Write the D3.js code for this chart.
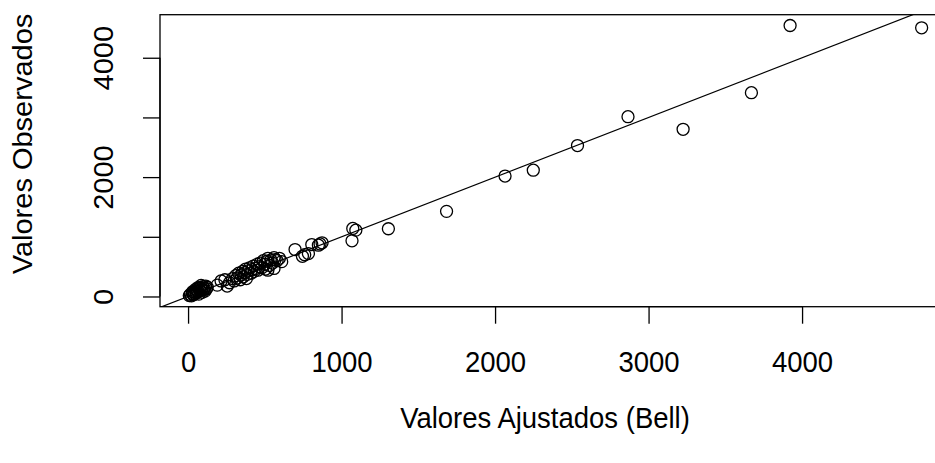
<!DOCTYPE html>
<html><head><meta charset="utf-8">
<script src="https://cdn.jsdelivr.net/npm/d3@7"></script>
<style>html,body{margin:0;padding:0;background:#fff;}svg{display:block;}</style>
</head><body>
<script>
// Fitted (Bell) values and observed values
const fitted = [8,15,22,28,35,40,45,50,55,60,65,70,72,78,82,88,92,96,100,105,110,115,120,125,65,85,50,30,
  190,215,240,270,255,
  290,300,310,320,330,340,345,355,360,370,375,385,390,400,410,415,425,430,440,450,455,465,470,380,
  480,490,500,505,515,520,530,540,550,560,567,580,595,610,560,520,
  697,745,760,784,806,849,873,860,1068,1073,1093,1305,1684,2065,2249,2537,2866,3225,3670,3922,4779];
const observed = [15,35,10,50,30,70,45,90,60,110,80,40,130,95,150,120,70,165,110,140,90,175,130,155,150,185,120,80,
  190,260,280,230,175,
  300,260,350,310,390,280,360,420,330,400,460,370,430,480,390,450,510,420,470,540,440,500,560,300,
  480,600,540,460,590,640,520,610,560,650,618,600,640,584,470,440,
  786,673,700,719,870,859,899,880,933,1140,1111,1135,1426,2018,2116,2529,3012,2801,3414,4540,4502];
const xTicks = [0,1000,2000,3000,4000];
const yTicks = [0,1000,2000,3000,4000];
const yTickLabels = ["0","","2000","","4000"];
const xTitle = "Valores Ajustados (Bell)";
const yTitle = "Valores Observados";

(function(){
const W = 935, H = 463;
const font = "'Liberation Sans', Arial, sans-serif";
const fs = "27.5px", stretch = 1.055;
const svg = d3.select("body").append("svg").attr("width", W).attr("height", H);

function padDomain(v){ const lo=d3.min(v), hi=d3.max(v), r=hi-lo; return [lo-0.04*r, hi+0.04*r]; }
const xd = padDomain(fitted), yd = padDomain(observed);
const pl = 160, pt = 14.7, pb = 306.7, pxPerUnit = 0.1535;
const pr = pl + (xd[1]-xd[0])*pxPerUnit;
const x = d3.scaleLinear().domain(xd).range([pl, pr]);
const y = d3.scaleLinear().domain(yd).range([pb, pt]);

const tickLen = 17;
svg.append("rect").attr("x", pl).attr("y", pt).attr("width", pr-pl).attr("height", pb-pt)
  .attr("fill","none").attr("stroke","#000").attr("stroke-width",1.3);

const xa = svg.append("g").attr("transform", `translate(0,${pb})`)
  .call(d3.axisBottom(x).tickValues(xTicks).tickSize(tickLen).tickPadding(0).tickFormat(()=>""));
xa.select(".domain").attr("d", `M${x(xTicks[0])},0H${x(xTicks[xTicks.length-1])}`).attr("stroke-width",1.3);
xa.selectAll(".tick line").attr("stroke-width",1.3);
xa.selectAll(".tick").append("text").attr("transform",`translate(0,65) scale(1,${stretch})`).attr("fill","#000")
  .attr("text-anchor","middle").style("font-family",font).style("font-size",fs)
  .text(d=>String(d));

const ya = svg.append("g").attr("transform", `translate(${pl},0)`)
  .call(d3.axisLeft(y).tickValues(yTicks).tickSize(tickLen).tickPadding(0).tickFormat(()=>""));
ya.select(".domain").attr("d", `M0,${y(yTicks[0])}V${y(yTicks[yTicks.length-1])}`).attr("stroke-width",1.3);
ya.selectAll(".tick line").attr("stroke-width",1.3);
ya.selectAll(".tick").append("text").attr("transform",`translate(-47,0) rotate(-90) scale(${stretch},1)`).attr("fill","#000")
  .attr("text-anchor","middle").style("font-family",font).style("font-size",fs)
  .text((d,i)=>yTickLabels[i]);

svg.append("clipPath").attr("id","pc").append("rect")
  .attr("x",pl).attr("y",pt).attr("width",pr-pl).attr("height",pb-pt);

svg.append("line").attr("clip-path","url(#pc)")
  .attr("x1", x(xd[0])).attr("y1", y(xd[0])).attr("x2", x(xd[1])).attr("y2", y(xd[1]))
  .attr("stroke","#000").attr("stroke-width",1.2);

svg.append("g").selectAll("circle").data(fitted).join("circle")
  .attr("cx", d=>x(d)).attr("cy", (d,i)=>y(observed[i])).attr("r", 6)
  .attr("fill","none").attr("stroke","#000").attr("stroke-width",1.3);

svg.append("text").attr("transform", `translate(545,428) scale(1,${stretch})`).attr("text-anchor","middle")
  .style("font-family",font).style("font-size",fs).attr("fill","#000").text(xTitle);
svg.append("text").attr("transform", `translate(32,144) rotate(-90) scale(${stretch},1)`).attr("text-anchor","middle")
  .style("font-family",font).style("font-size",fs).attr("fill","#000").text(yTitle);
})();
</script>
</body></html>
